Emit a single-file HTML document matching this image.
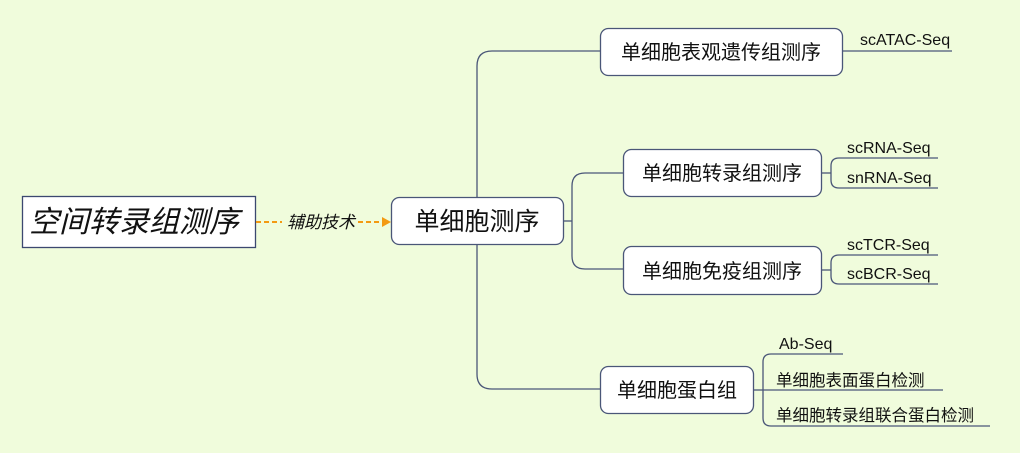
<!DOCTYPE html>
<html><head><meta charset="utf-8"><style>
html,body{margin:0;padding:0;background:#f0fcdc;}
svg{display:block}
text{font-family:"Liberation Sans","Noto Sans CJK SC",sans-serif;fill:#111}
</style></head><body>
<svg width="1020" height="453" viewBox="0 0 1020 453" xmlns="http://www.w3.org/2000/svg">
<rect width="1020" height="453" fill="#f0fcdc"/>
<g fill="none" stroke="#4a5678" stroke-width="1.3">
<path d="M600 51 H492 Q477 51 477 66 V374 Q477 389 492 389 H600"/>
<path d="M564 221 H572"/>
<path d="M623 173 H585 Q572 173 572 186 V256 Q572 269 585 269 H623"/>
<path d="M843 51 H952"/>
<path d="M822 173 H831"/>
<path d="M938 158 H839 Q831 158 831 166 V180 Q831 188 839 188 H938"/>
<path d="M822 270 H831"/>
<path d="M938 255 H839 Q831 255 831 263 V276 Q831 284 839 284 H938"/>
<path d="M754 390 H763"/>
<path d="M843 354 H771 Q763 354 763 362 V418 Q763 426 771 426 H990"/>
<path d="M763 390 H943"/>
</g>
<rect x="22.5" y="196.5" width="233" height="51" fill="#fff" stroke="#3c4870" stroke-width="1.3"/>
<text x="134" y="232" font-size="30" font-style="italic" text-anchor="middle">空间转录组测序</text>
<path d="M256 222 H282 M358 222 H382" stroke="#f39a12" stroke-width="2" stroke-dasharray="5,3"/>
<path d="M382 217 L391 222 L382 227 Z" fill="#f39a12"/>
<text x="321" y="228" font-size="17" font-style="italic" text-anchor="middle">辅助技术</text>
<g fill="#fff" stroke="#4a5678" stroke-width="1.3">
<rect x="391.5" y="197.5" width="172" height="47" rx="8"/>
<rect x="600.5" y="28.5" width="242" height="47" rx="8"/>
<rect x="623.5" y="149.5" width="198" height="47" rx="8"/>
<rect x="623.5" y="246.5" width="198" height="48" rx="8"/>
<rect x="600.5" y="366.5" width="153" height="47" rx="8"/>
</g>
<text x="477" y="230" font-size="25" text-anchor="middle">单细胞测序</text>
<g font-size="20" text-anchor="middle">
<text x="721" y="59">单细胞表观遗传组测序</text>
<text x="722" y="180">单细胞转录组测序</text>
<text x="722" y="278">单细胞免疫组测序</text>
<text x="677" y="397">单细胞蛋白组</text>
</g>
<g font-size="16">
<text x="860" y="45">scATAC-Seq</text>
<text x="847" y="153">scRNA-Seq</text>
<text x="847" y="183">snRNA-Seq</text>
<text x="847" y="250">scTCR-Seq</text>
<text x="847" y="279">scBCR-Seq</text>
<text x="779" y="349">Ab-Seq</text>
<text x="776" y="386" font-size="16.5">单细胞表面蛋白检测</text>
<text x="776" y="421" font-size="16.5">单细胞转录组联合蛋白检测</text>
</g>
</svg>
</body></html>
